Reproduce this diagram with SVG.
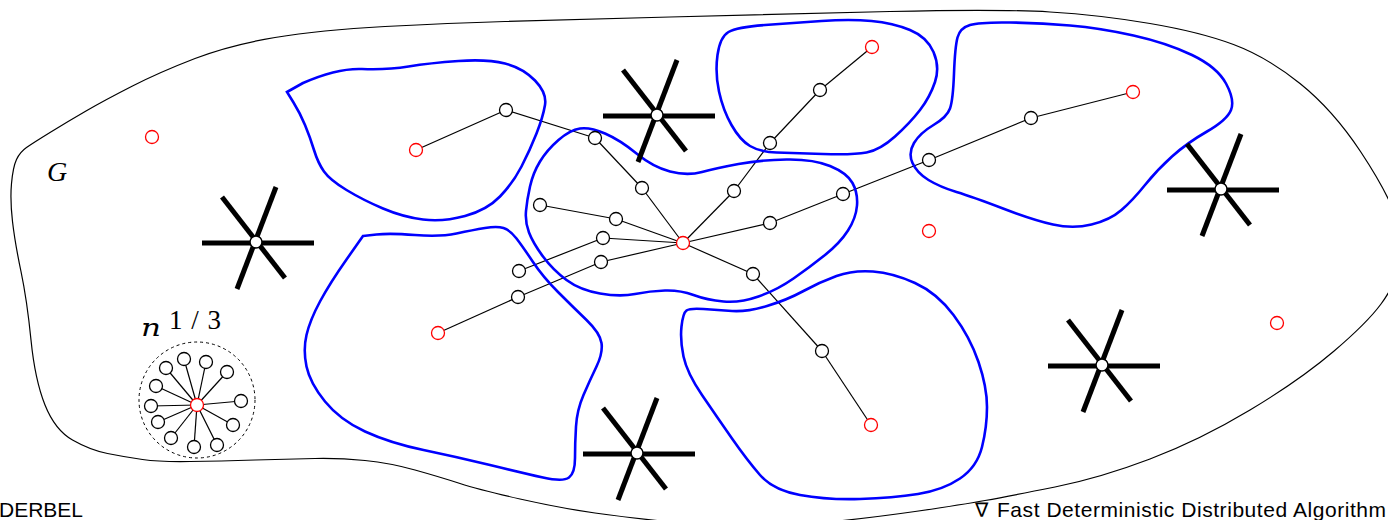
<svg xmlns="http://www.w3.org/2000/svg" xmlns:xlink="http://www.w3.org/1999/xlink" width="1388" height="520" viewBox="0 0 1388 520">
<style>
.outer{fill:none;stroke:#000;stroke-width:1.2}
.blue{fill:none;stroke:#0000ff;stroke-width:2.6}
.edge{stroke:#000;stroke-width:1.2;fill:none}
.n{fill:#fff;stroke:#000;stroke-width:1.3}
.r{fill:#fff;stroke:#ff0000;stroke-width:1.3}
.arm{stroke:#000;stroke-width:5;fill:none}
.hub{fill:#fff;stroke:#000;stroke-width:1.5}
.math{font-family:"Liberation Serif","DejaVu Serif",serif;font-style:italic;fill:#000}
.num{font-family:"Liberation Serif","DejaVu Serif",serif;fill:#000}
.foot{font-family:"Liberation Sans",Arial,sans-serif;font-size:21px;fill:#000}
</style>
<defs>
<g id="star">
<line class="arm" x1="-54" y1="1" x2="58" y2="1"/>
<line class="arm" x1="-34" y1="-45" x2="29" y2="36"/>
<line class="arm" x1="20" y1="-55" x2="-19" y2="47"/>
<circle class="hub" cx="0" cy="0" r="6"/>
</g>
</defs>
<rect width="1388" height="520" fill="#fff"/>
<path id="G-boundary" class="outer" d="M 26.5,147.5 Q 33,143 50,132.5 Q 67,122 86,111 Q 105,100 132.5,86 Q 160,72 195,58.5 Q 230,45 275,37.5 Q 320,30 385,26.5 Q 450,23 505,21.5 Q 560,20 670,17 Q 780,14 890,11.5 Q 1000,9 1050,12 Q 1100,15 1150,23.5 Q 1200,32 1233.5,44.5 Q 1267,57 1300,83.5 Q 1333,110 1360.5,151.5 Q 1388,193 1396.5,219 Q 1405,245 1400,265 Q 1395,285 1381,304 Q 1367,323 1333.5,351.5 Q 1300,380 1250,410 Q 1200,440 1150,459 Q 1100,478 1055,487 Q 1010,496 985,500.5 Q 960,505 915,511.5 Q 870,518 810,524 Q 750,530 690,524 Q 630,518 595,513 Q 560,508 520,499 Q 480,490 460,483.5 Q 440,477 415,470 Q 390,463 365,460.5 Q 340,458 315,458.5 Q 290,459 255,460 Q 220,461 190,461.5 Q 160,462 142.5,459.5 Q 125,457 107.5,453.5 Q 90,450 72.5,440 Q 55,430 45,405 Q 35,380 31,340 Q 27,300 21,271.5 Q 15,243 12.5,221.5 Q 10,200 11.5,183.5 Q 13,167 16.5,159.5 Q 20,152 26.5,147.5 Z"/>
<text class="math" x="47" y="181" font-size="28">G</text>
<g id="connectors">
<line class="edge" x1="416" y1="150" x2="506" y2="110"/>
<line class="edge" x1="506" y1="110" x2="595" y2="138"/>
<line class="edge" x1="595" y1="138" x2="642" y2="188"/>
<line class="edge" x1="642" y1="188" x2="683" y2="243"/>
<line class="edge" x1="683" y1="243" x2="616" y2="219"/>
<line class="edge" x1="616" y1="219" x2="540" y2="205"/>
<line class="edge" x1="683" y1="243" x2="603" y2="238"/>
<line class="edge" x1="603" y1="238" x2="519" y2="271"/>
<line class="edge" x1="683" y1="243" x2="601" y2="262"/>
<line class="edge" x1="601" y1="262" x2="518" y2="297"/>
<line class="edge" x1="518" y1="297" x2="438" y2="333"/>
<line class="edge" x1="683" y1="243" x2="734" y2="191"/>
<line class="edge" x1="734" y1="191" x2="770" y2="143"/>
<line class="edge" x1="770" y1="143" x2="820" y2="90"/>
<line class="edge" x1="820" y1="90" x2="872" y2="47"/>
<line class="edge" x1="683" y1="243" x2="770" y2="223"/>
<line class="edge" x1="770" y1="223" x2="843" y2="194"/>
<line class="edge" x1="843" y1="194" x2="929" y2="160"/>
<line class="edge" x1="929" y1="160" x2="1031" y2="118"/>
<line class="edge" x1="1031" y1="118" x2="1133" y2="92"/>
<line class="edge" x1="683" y1="243" x2="753" y2="274"/>
<line class="edge" x1="753" y1="274" x2="822" y2="351"/>
<line class="edge" x1="822" y1="351" x2="871" y2="425"/>
<line class="edge" x1="197" y1="405" x2="184" y2="359"/>
<line class="edge" x1="197" y1="405" x2="206" y2="362"/>
<line class="edge" x1="197" y1="405" x2="166" y2="368"/>
<line class="edge" x1="197" y1="405" x2="227" y2="372"/>
<line class="edge" x1="197" y1="405" x2="156" y2="386"/>
<line class="edge" x1="197" y1="405" x2="241" y2="401"/>
<line class="edge" x1="197" y1="405" x2="151" y2="406"/>
<line class="edge" x1="197" y1="405" x2="233" y2="425"/>
<line class="edge" x1="197" y1="405" x2="158" y2="422"/>
<line class="edge" x1="197" y1="405" x2="171" y2="438"/>
<line class="edge" x1="197" y1="405" x2="194" y2="447"/>
<line class="edge" x1="197" y1="405" x2="217" y2="445"/>
</g>
<g id="clusters">
<path id="cluster-topleft" class="blue" d="M 287,92 L 303,83 Q 337,68 362,69 Q 387,70 408.5,66.5 Q 430,63 458.5,61 Q 487,59 505,63.5 Q 523,68 535,80.5 Q 547,93 545,105 Q 543,117 536.5,133.5 Q 530,150 521.5,166.5 Q 513,183 500,196.5 Q 487,210 465,216 Q 443,222 423,219.5 Q 403,217 383,208.5 Q 363,200 346.5,190 Q 330,180 324,171.5 Q 318,163 314,150 Q 310,137 305,125 Q 300,113 293.5,102.5 L 287,92 Z"/>
<path id="cluster-center" class="blue" d="M 529,232.5 Q 525,222 526,211 Q 527,200 530,186.5 Q 533,173 540,161.5 Q 547,150 558.5,140 Q 570,130 580,128.5 Q 590,127 605,133.5 Q 620,140 636.5,153.5 Q 653,167 670,171.5 Q 687,176 702,172 Q 717,168 738.5,164 Q 760,160 786.5,159.5 Q 813,159 830,166 Q 847,173 852.5,183 Q 858,193 857,205.5 Q 856,218 848,230.5 Q 840,243 825,255 Q 810,267 793.5,278.5 Q 777,290 758.5,296.5 Q 740,303 723.5,301.5 Q 707,300 693.5,295 Q 680,290 665,290.5 Q 650,291 635,294 Q 620,297 600,293.5 Q 580,290 566.5,280 Q 553,270 543,256.5 Q 533,243 529,232.5 Z"/>
<path id="cluster-top" class="blue" d="M 717.5,55 Q 720,37 728.5,32 Q 737,27 765,25 Q 793,23 821.5,21 Q 850,19 871.5,21 Q 893,23 910,30 Q 927,37 933.5,52 Q 940,67 935,82 Q 930,97 920,110 Q 910,123 895,136.5 Q 880,150 866.5,152.5 Q 853,155 823,154 Q 793,153 776.5,152.5 Q 760,152 750,146 Q 740,140 731.5,125 Q 723,110 719,91.5 Q 715,73 717.5,55 Z"/>
<path id="cluster-topright" class="blue" d="M 970,25 Q 980,22 1010,22.5 Q 1040,23 1070,25.5 Q 1100,28 1133.5,35.5 Q 1167,43 1192,55 Q 1217,67 1226,83.5 Q 1235,100 1231,110 Q 1227,120 1207,131.5 Q 1187,143 1172,156.5 Q 1157,170 1145,185 Q 1133,200 1121.5,210 Q 1110,220 1091.5,224.5 Q 1073,229 1053,224.5 Q 1033,220 1003,208.5 Q 973,197 956.5,192 Q 940,187 928.5,180 Q 917,173 912.5,163 Q 908,153 914,143 Q 920,133 933.5,125 Q 947,117 950,108.5 Q 953,100 954,73.5 Q 955,47 957.5,37.5 Q 960,28 970,25 Z"/>
<path id="cluster-bottomleft" class="blue" d="M 363,236 L 376.5,234.5 Q 390,233 415,235 Q 440,237 456.5,233.5 Q 473,230 485,228 Q 497,226 503.5,228 Q 510,230 516.5,238.5 Q 523,247 533,262 Q 543,277 558,292 Q 573,307 586.5,320 Q 600,333 601.5,343 Q 603,353 596.5,366.5 Q 590,380 583.5,395 Q 577,410 576,426.5 Q 575,443 575,458 Q 575,473 569,477.5 Q 563,482 543,477.5 Q 523,473 490,465 Q 457,457 423.5,450 Q 390,443 365,431.5 Q 340,420 325,401.5 Q 310,383 306.5,366.5 Q 303,350 306.5,335 Q 310,320 320,301.5 Q 330,283 346.5,259.5 L 363,236 Z"/>
<path id="cluster-bottomright" class="blue" d="M 686.5,310.5 Q 690,308 703.5,309 Q 717,310 732,311 Q 747,312 767,306 Q 787,300 803.5,291 Q 820,282 836.5,276 Q 853,270 873,271.5 Q 893,273 915,283 Q 937,293 953.5,315 Q 970,337 978.5,362 Q 987,387 987,407 Q 987,427 982,447 Q 977,467 960,478.5 Q 943,490 918,494 Q 893,498 860,499 Q 827,500 800,495 Q 773,490 760,475 Q 747,460 732,438.5 Q 717,417 702,395 Q 687,373 683.5,356.5 Q 680,340 681.5,326.5 Q 683,313 686.5,310.5 Z"/>
</g>
<g id="tree-nodes">
<g id="n-c"><circle class="r" cx="683" cy="243" r="6.5"/></g>
<g id="n-r1"><circle class="r" cx="416" cy="150" r="6.5"/></g>
<g id="n-a1"><circle class="n" cx="506" cy="110" r="6.5"/></g>
<g id="n-a2"><circle class="n" cx="595" cy="138" r="6.5"/></g>
<g id="n-a3"><circle class="n" cx="642" cy="188" r="6.5"/></g>
<g id="n-b1"><circle class="n" cx="616" cy="219" r="6.5"/></g>
<g id="n-b2"><circle class="n" cx="540" cy="205" r="6.5"/></g>
<g id="n-c1"><circle class="n" cx="603" cy="238" r="6.5"/></g>
<g id="n-c2"><circle class="n" cx="519" cy="271" r="6.5"/></g>
<g id="n-d1"><circle class="n" cx="601" cy="262" r="6.5"/></g>
<g id="n-d2"><circle class="n" cx="518" cy="297" r="6.5"/></g>
<g id="n-r2"><circle class="r" cx="438" cy="333" r="6.5"/></g>
<g id="n-e1"><circle class="n" cx="734" cy="191" r="6.5"/></g>
<g id="n-e2"><circle class="n" cx="770" cy="143" r="6.5"/></g>
<g id="n-e3"><circle class="n" cx="820" cy="90" r="6.5"/></g>
<g id="n-r3"><circle class="r" cx="872" cy="47" r="6.5"/></g>
<g id="n-f1"><circle class="n" cx="770" cy="223" r="6.5"/></g>
<g id="n-f2"><circle class="n" cx="843" cy="194" r="6.5"/></g>
<g id="n-f3"><circle class="n" cx="929" cy="160" r="6.5"/></g>
<g id="n-f4"><circle class="n" cx="1031" cy="118" r="6.5"/></g>
<g id="n-r4"><circle class="r" cx="1133" cy="92" r="6.5"/></g>
<g id="n-g1"><circle class="n" cx="753" cy="274" r="6.5"/></g>
<g id="n-g2"><circle class="n" cx="822" cy="351" r="6.5"/></g>
<g id="n-r5"><circle class="r" cx="871" cy="425" r="6.5"/></g>
</g>
<g id="isolated">
<g id="iso-1"><circle class="r" cx="152" cy="137" r="6.5"/></g>
<g id="iso-2"><circle class="r" cx="929" cy="231" r="6.5"/></g>
<g id="iso-3"><circle class="r" cx="1277" cy="323" r="6.5"/></g>
</g>
<g id="star-cluster">
<circle cx="197" cy="400" r="58" fill="none" stroke="#000" stroke-width="1" stroke-dasharray="3,3"/>
<circle class="n" cx="184" cy="359" r="6.5"/>
<circle class="n" cx="206" cy="362" r="6.5"/>
<circle class="n" cx="166" cy="368" r="6.5"/>
<circle class="n" cx="227" cy="372" r="6.5"/>
<circle class="n" cx="156" cy="386" r="6.5"/>
<circle class="n" cx="241" cy="401" r="6.5"/>
<circle class="n" cx="151" cy="406" r="6.5"/>
<circle class="n" cx="233" cy="425" r="6.5"/>
<circle class="n" cx="158" cy="422" r="6.5"/>
<circle class="n" cx="171" cy="438" r="6.5"/>
<circle class="n" cx="194" cy="447" r="6.5"/>
<circle class="n" cx="217" cy="445" r="6.5"/>
<circle class="r" cx="197" cy="405" r="6.5"/>
<text x="141" y="336" font-family="'DejaVu Serif',serif" font-style="italic" font-size="25" textLength="20" lengthAdjust="spacingAndGlyphs" fill="#000">n</text>
<text class="num" x="169" y="329" font-size="27" textLength="52" lengthAdjust="spacing">1/3</text>
</g>
<g id="star-1"><use xlink:href="#star" href="#star" transform="translate(256,242)"/></g>
<g id="star-2"><use xlink:href="#star" href="#star" transform="translate(657,115)"/></g>
<g id="star-3"><use xlink:href="#star" href="#star" transform="translate(1221,189)"/></g>
<g id="star-4"><use xlink:href="#star" href="#star" transform="translate(1102,365)"/></g>
<g id="star-5"><use xlink:href="#star" href="#star" transform="translate(637,453)"/></g>
<text class="foot" x="-1" y="517">DERBEL</text>
<text x="975" y="517" font-family="'DejaVu Sans',sans-serif" font-size="20" fill="#000">∇</text>
<text class="foot" x="997" y="517" textLength="389" lengthAdjust="spacing">Fast Deterministic Distributed Algorithm</text>
</svg>
